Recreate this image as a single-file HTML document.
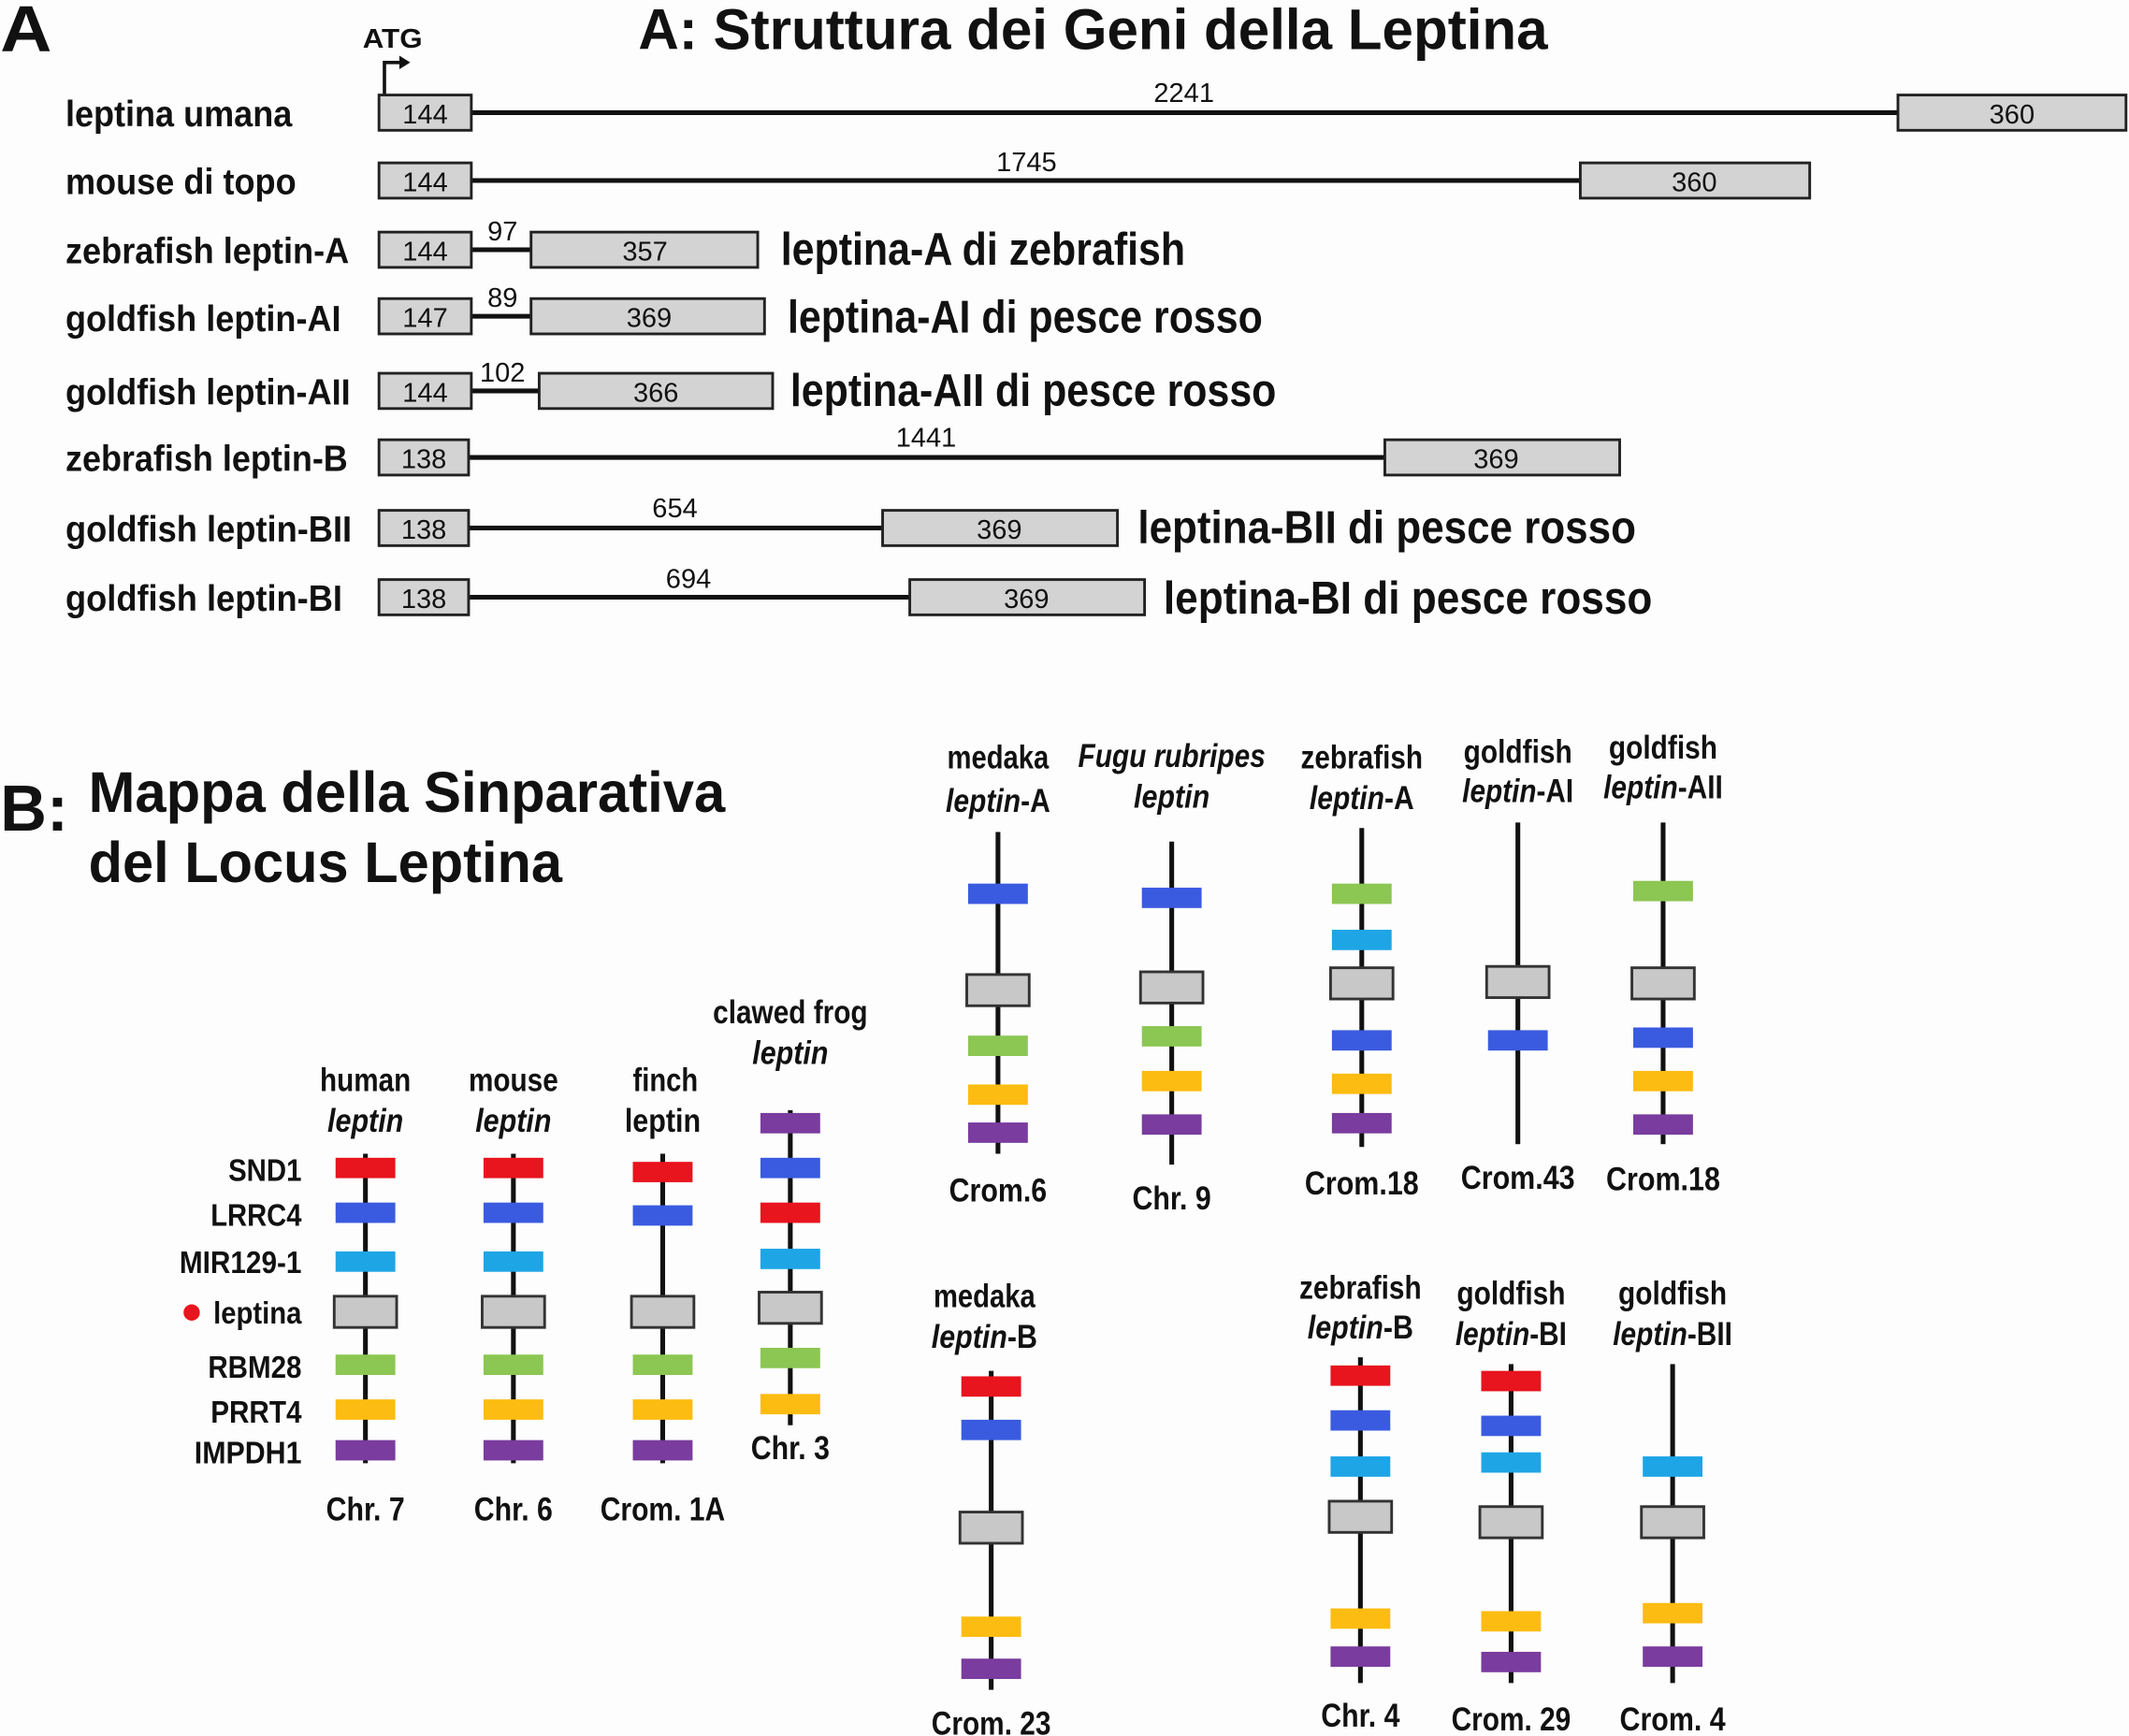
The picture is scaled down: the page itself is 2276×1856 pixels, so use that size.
<!DOCTYPE html>
<html><head><meta charset="utf-8"><style>
html,body{margin:0;padding:0;background:#fdfdfd;}
svg{display:block;}
text{font-family:"Liberation Sans",sans-serif;font-weight:bold;fill:#111;}
.n{font-weight:normal;font-size:20px;}
.lab{font-size:27px;}
.big{font-size:34px;}
.cl{font-size:24px;text-anchor:middle;}
.gn{font-size:23px;text-anchor:end;}
.bx{fill:#d3d3d3;stroke:#222;stroke-width:2;}
.ln{stroke:#111;stroke-width:3.5;}
.R{fill:#e8141e}.B{fill:#3a5be0}.C{fill:#1ea5e6}.G{fill:#8cc653}.O{fill:#fdbc12}.P{fill:#7a3c9e}
.Y{fill:#c8c8c8;stroke:#333;stroke-width:2}
</style></head><body>
<svg width="2276" height="1856" viewBox="0 0 1568 1279" xmlns="http://www.w3.org/2000/svg">
<rect width="1568" height="1279" fill="#fdfdfd"/>
<!-- Part A -->
<text x="0" y="38" style="font-size:48px" textLength="38" lengthAdjust="spacingAndGlyphs">A</text>
<text x="470" y="36" style="font-size:42px" textLength="670" lengthAdjust="spacingAndGlyphs">A: Struttura dei Geni della Leptina</text>
<text x="267" y="35" style="font-size:20px" textLength="44" lengthAdjust="spacingAndGlyphs">ATG</text>
<path d="M283 70 V46 H296" fill="none" stroke="#111" stroke-width="2.5"/>
<path d="M294 41 L302 46 L294 51 Z" fill="#111"/>

<g class="lab">
<text x="48" y="93" textLength="167" lengthAdjust="spacingAndGlyphs">leptina umana</text>
<text x="48" y="143" textLength="170" lengthAdjust="spacingAndGlyphs">mouse di topo</text>
<text x="48" y="194" textLength="209" lengthAdjust="spacingAndGlyphs">zebrafish leptin-A</text>
<text x="48" y="244" textLength="203" lengthAdjust="spacingAndGlyphs">goldfish leptin-AI</text>
<text x="48" y="298" textLength="210" lengthAdjust="spacingAndGlyphs">goldfish leptin-AII</text>
<text x="48" y="347" textLength="208" lengthAdjust="spacingAndGlyphs">zebrafish leptin-B</text>
<text x="48" y="399" textLength="211" lengthAdjust="spacingAndGlyphs">goldfish leptin-BII</text>
<text x="48" y="450" textLength="204" lengthAdjust="spacingAndGlyphs">goldfish leptin-BI</text>
</g>

<line class="ln" x1="347" y1="83" x2="1398" y2="83"/>
<rect class="bx" x="279" y="70" width="68" height="26"/><rect class="bx" x="1398" y="70" width="168" height="26"/>
<text class="n" x="313" y="91" text-anchor="middle">144</text><text class="n" x="1482" y="91" text-anchor="middle">360</text>
<text class="n" x="872" y="75" text-anchor="middle">2241</text>

<line class="ln" x1="347" y1="133" x2="1164" y2="133"/>
<rect class="bx" x="279" y="120" width="68" height="26"/><rect class="bx" x="1164" y="120" width="169" height="26"/>
<text class="n" x="313" y="141" text-anchor="middle">144</text><text class="n" x="1248" y="141" text-anchor="middle">360</text>
<text class="n" x="756" y="126" text-anchor="middle">1745</text>

<line class="ln" x1="347" y1="184" x2="391" y2="184"/>
<rect class="bx" x="279" y="171" width="68" height="26"/><rect class="bx" x="391" y="171" width="167" height="26"/>
<text class="n" x="313" y="192" text-anchor="middle">144</text><text class="n" x="475" y="192" text-anchor="middle">357</text>
<text class="n" x="370" y="177" text-anchor="middle">97</text>
<text class="big" x="575" y="195" textLength="298" lengthAdjust="spacingAndGlyphs">leptina-A di zebrafish</text>

<line class="ln" x1="347" y1="233" x2="391" y2="233"/>
<rect class="bx" x="279" y="220" width="68" height="26"/><rect class="bx" x="391" y="220" width="172" height="26"/>
<text class="n" x="313" y="241" text-anchor="middle">147</text><text class="n" x="478" y="241" text-anchor="middle">369</text>
<text class="n" x="370" y="226" text-anchor="middle">89</text>
<text class="big" x="580" y="245" textLength="350" lengthAdjust="spacingAndGlyphs">leptina-AI di pesce rosso</text>

<line class="ln" x1="347" y1="288" x2="397" y2="288"/>
<rect class="bx" x="279" y="275" width="68" height="26"/><rect class="bx" x="397" y="275" width="172" height="26"/>
<text class="n" x="313" y="296" text-anchor="middle">144</text><text class="n" x="483" y="296" text-anchor="middle">366</text>
<text class="n" x="370" y="281" text-anchor="middle">102</text>
<text class="big" x="582" y="299" textLength="358" lengthAdjust="spacingAndGlyphs">leptina-AII di pesce rosso</text>

<line class="ln" x1="345" y1="337" x2="1020" y2="337"/>
<rect class="bx" x="279" y="324" width="66" height="26"/><rect class="bx" x="1020" y="324" width="173" height="26"/>
<text class="n" x="312" y="345" text-anchor="middle">138</text><text class="n" x="1102" y="345" text-anchor="middle">369</text>
<text class="n" x="682" y="329" text-anchor="middle">1441</text>

<line class="ln" x1="345" y1="389" x2="650" y2="389"/>
<rect class="bx" x="279" y="376" width="66" height="26"/><rect class="bx" x="650" y="376" width="173" height="26"/>
<text class="n" x="312" y="397" text-anchor="middle">138</text><text class="n" x="736" y="397" text-anchor="middle">369</text>
<text class="n" x="497" y="381" text-anchor="middle">654</text>
<text class="big" x="838" y="400" textLength="367" lengthAdjust="spacingAndGlyphs">leptina-BII di pesce rosso</text>

<line class="ln" x1="345" y1="440" x2="670" y2="440"/>
<rect class="bx" x="279" y="427" width="66" height="26"/><rect class="bx" x="670" y="427" width="173" height="26"/>
<text class="n" x="312" y="448" text-anchor="middle">138</text><text class="n" x="756" y="448" text-anchor="middle">369</text>
<text class="n" x="507" y="433" text-anchor="middle">694</text>
<text class="big" x="857" y="452" textLength="360" lengthAdjust="spacingAndGlyphs">leptina-BI di pesce rosso</text>

<!-- Part B -->
<text x="0" y="612" style="font-size:48px" textLength="50" lengthAdjust="spacingAndGlyphs">B:</text>
<text x="65" y="598" style="font-size:42px" textLength="469" lengthAdjust="spacingAndGlyphs">Mappa della Sinparativa</text>
<text x="65" y="650" style="font-size:42px" textLength="349" lengthAdjust="spacingAndGlyphs">del Locus Leptina</text>

<g>
<text class="gn" x="222" y="870" textLength="54" lengthAdjust="spacingAndGlyphs">SND1</text>
<text class="gn" x="222" y="903" textLength="67" lengthAdjust="spacingAndGlyphs">LRRC4</text>
<text class="gn" x="222" y="938" textLength="90" lengthAdjust="spacingAndGlyphs">MIR129-1</text>
<circle cx="141" cy="967" r="6" fill="#e8141e"/>
<text class="gn" x="222" y="975" textLength="65" lengthAdjust="spacingAndGlyphs">leptina</text>
<text class="gn" x="222" y="1015" textLength="69" lengthAdjust="spacingAndGlyphs">RBM28</text>
<text class="gn" x="222" y="1048" textLength="67" lengthAdjust="spacingAndGlyphs">PRRT4</text>
<text class="gn" x="222" y="1078" textLength="79" lengthAdjust="spacingAndGlyphs">IMPDH1</text>
</g>

<!-- human -->
<text class="cl" x="269" y="804" textLength="67" lengthAdjust="spacingAndGlyphs">human</text><text class="cl" x="269" y="834" font-style="italic" textLength="56" lengthAdjust="spacingAndGlyphs">leptin</text>
<line class="ln" x1="269" y1="850" x2="269" y2="1078"/>
<rect class="R" x="247" y="853" width="44" height="15"/><rect class="B" x="247" y="886" width="44" height="15"/>
<rect class="C" x="247" y="922" width="44" height="15"/><rect class="Y" x="246" y="955" width="46" height="23"/>
<rect class="G" x="247" y="998" width="44" height="15"/><rect class="O" x="247" y="1031" width="44" height="15"/>
<rect class="P" x="247" y="1061" width="44" height="15"/>
<text class="cl" x="269" y="1120" textLength="58" lengthAdjust="spacingAndGlyphs">Chr. 7</text>
<!-- mouse -->
<text class="cl" x="378" y="804" textLength="66" lengthAdjust="spacingAndGlyphs">mouse</text><text class="cl" x="378" y="834" font-style="italic" textLength="56" lengthAdjust="spacingAndGlyphs">leptin</text>
<line class="ln" x1="378" y1="850" x2="378" y2="1078"/>
<rect class="R" x="356" y="853" width="44" height="15"/><rect class="B" x="356" y="886" width="44" height="15"/>
<rect class="C" x="356" y="922" width="44" height="15"/><rect class="Y" x="355" y="955" width="46" height="23"/>
<rect class="G" x="356" y="998" width="44" height="15"/><rect class="O" x="356" y="1031" width="44" height="15"/>
<rect class="P" x="356" y="1061" width="44" height="15"/>
<text class="cl" x="378" y="1120" textLength="58" lengthAdjust="spacingAndGlyphs">Chr. 6</text>
<!-- finch -->
<text class="cl" x="490" y="804" textLength="48" lengthAdjust="spacingAndGlyphs">finch</text><text class="cl" x="488" y="834" textLength="56" lengthAdjust="spacingAndGlyphs">leptin</text>
<line class="ln" x1="488" y1="850" x2="488" y2="1078"/>
<rect class="R" x="466" y="856" width="44" height="15"/><rect class="B" x="466" y="888" width="44" height="15"/>
<rect class="Y" x="465" y="955" width="46" height="23"/>
<rect class="G" x="466" y="998" width="44" height="15"/><rect class="O" x="466" y="1031" width="44" height="15"/>
<rect class="P" x="466" y="1061" width="44" height="15"/>
<text class="cl" x="488" y="1120" textLength="92" lengthAdjust="spacingAndGlyphs">Crom. 1A</text>
<!-- frog -->
<text class="cl" x="582" y="754" textLength="114" lengthAdjust="spacingAndGlyphs">clawed frog</text><text class="cl" x="582" y="784" font-style="italic" textLength="56" lengthAdjust="spacingAndGlyphs">leptin</text>
<line class="ln" x1="582" y1="818" x2="582" y2="1050"/>
<rect class="P" x="560" y="820" width="44" height="15"/><rect class="B" x="560" y="853" width="44" height="15"/>
<rect class="R" x="560" y="886" width="44" height="15"/><rect class="C" x="560" y="920" width="44" height="15"/>
<rect class="Y" x="559" y="952" width="46" height="23"/>
<rect class="G" x="560" y="993" width="44" height="15"/><rect class="O" x="560" y="1027" width="44" height="15"/>
<text class="cl" x="582" y="1075" textLength="58" lengthAdjust="spacingAndGlyphs">Chr. 3</text>

<!-- medaka A -->
<text class="cl" x="735" y="566" textLength="75" lengthAdjust="spacingAndGlyphs">medaka</text><text class="cl" x="735" y="598" textLength="77" lengthAdjust="spacingAndGlyphs"><tspan font-style="italic">leptin</tspan>-A</text>
<line class="ln" x1="735" y1="613" x2="735" y2="850"/>
<rect class="B" x="713" y="651" width="44" height="15"/><rect class="Y" x="712" y="718" width="46" height="23"/>
<rect class="G" x="713" y="763" width="44" height="15"/><rect class="O" x="713" y="799" width="44" height="15"/>
<rect class="P" x="713" y="827" width="44" height="15"/>
<text class="cl" x="735" y="885" textLength="72" lengthAdjust="spacingAndGlyphs">Crom.6</text>
<!-- fugu -->
<text class="cl" x="863" y="565" font-style="italic" textLength="138" lengthAdjust="spacingAndGlyphs">Fugu rubripes</text><text class="cl" x="863" y="595" font-style="italic" textLength="56" lengthAdjust="spacingAndGlyphs">leptin</text>
<line class="ln" x1="863" y1="620" x2="863" y2="858"/>
<rect class="B" x="841" y="654" width="44" height="15"/><rect class="Y" x="840" y="716" width="46" height="23"/>
<rect class="G" x="841" y="756" width="44" height="15"/><rect class="O" x="841" y="789" width="44" height="15"/>
<rect class="P" x="841" y="821" width="44" height="15"/>
<text class="cl" x="863" y="891" textLength="58" lengthAdjust="spacingAndGlyphs">Chr. 9</text>
<!-- zebrafish A -->
<text class="cl" x="1003" y="566" textLength="90" lengthAdjust="spacingAndGlyphs">zebrafish</text><text class="cl" x="1003" y="596" textLength="77" lengthAdjust="spacingAndGlyphs"><tspan font-style="italic">leptin</tspan>-A</text>
<line class="ln" x1="1003" y1="610" x2="1003" y2="845"/>
<rect class="G" x="981" y="651" width="44" height="15"/><rect class="C" x="981" y="685" width="44" height="15"/>
<rect class="Y" x="980" y="713" width="46" height="23"/>
<rect class="B" x="981" y="759" width="44" height="15"/><rect class="O" x="981" y="791" width="44" height="15"/>
<rect class="P" x="981" y="820" width="44" height="15"/>
<text class="cl" x="1003" y="880" textLength="84" lengthAdjust="spacingAndGlyphs">Crom.18</text>
<!-- goldfish AI -->
<text class="cl" x="1118" y="562" textLength="80" lengthAdjust="spacingAndGlyphs">goldfish</text><text class="cl" x="1118" y="591" textLength="82" lengthAdjust="spacingAndGlyphs"><tspan font-style="italic">leptin</tspan>-AI</text>
<line class="ln" x1="1118" y1="606" x2="1118" y2="843"/>
<rect class="Y" x="1095" y="712" width="46" height="23"/>
<rect class="B" x="1096" y="759" width="44" height="15"/>
<text class="cl" x="1118" y="876" textLength="84" lengthAdjust="spacingAndGlyphs">Crom.43</text>
<!-- goldfish AII -->
<text class="cl" x="1225" y="559" textLength="80" lengthAdjust="spacingAndGlyphs">goldfish</text><text class="cl" x="1225" y="588" textLength="88" lengthAdjust="spacingAndGlyphs"><tspan font-style="italic">leptin</tspan>-AII</text>
<line class="ln" x1="1225" y1="606" x2="1225" y2="843"/>
<rect class="G" x="1203" y="649" width="44" height="15"/><rect class="Y" x="1202" y="713" width="46" height="23"/>
<rect class="B" x="1203" y="757" width="44" height="15"/><rect class="O" x="1203" y="789" width="44" height="15"/>
<rect class="P" x="1203" y="821" width="44" height="15"/>
<text class="cl" x="1225" y="877" textLength="84" lengthAdjust="spacingAndGlyphs">Crom.18</text>

<!-- medaka B -->
<text class="cl" x="725" y="963" textLength="75" lengthAdjust="spacingAndGlyphs">medaka</text><text class="cl" x="725" y="993" textLength="78" lengthAdjust="spacingAndGlyphs"><tspan font-style="italic">leptin</tspan>-B</text>
<line class="ln" x1="730" y1="1010" x2="730" y2="1245"/>
<rect class="R" x="708" y="1014" width="44" height="15"/><rect class="B" x="708" y="1046" width="44" height="15"/>
<rect class="Y" x="707" y="1114" width="46" height="23"/>
<rect class="O" x="708" y="1191" width="44" height="15"/><rect class="P" x="708" y="1222" width="44" height="15"/>
<text class="cl" x="730" y="1278" textLength="88" lengthAdjust="spacingAndGlyphs">Crom. 23</text>
<!-- zebrafish B -->
<text class="cl" x="1002" y="957" textLength="90" lengthAdjust="spacingAndGlyphs">zebrafish</text><text class="cl" x="1002" y="986" textLength="78" lengthAdjust="spacingAndGlyphs"><tspan font-style="italic">leptin</tspan>-B</text>
<line class="ln" x1="1002" y1="1000" x2="1002" y2="1240"/>
<rect class="R" x="980" y="1006" width="44" height="15"/><rect class="B" x="980" y="1039" width="44" height="15"/>
<rect class="C" x="980" y="1073" width="44" height="15"/><rect class="Y" x="979" y="1106" width="46" height="23"/>
<rect class="O" x="980" y="1185" width="44" height="15"/><rect class="P" x="980" y="1213" width="44" height="15"/>
<text class="cl" x="1002" y="1272" textLength="58" lengthAdjust="spacingAndGlyphs">Chr. 4</text>
<!-- goldfish BI -->
<text class="cl" x="1113" y="961" textLength="80" lengthAdjust="spacingAndGlyphs">goldfish</text><text class="cl" x="1113" y="991" textLength="82" lengthAdjust="spacingAndGlyphs"><tspan font-style="italic">leptin</tspan>-BI</text>
<line class="ln" x1="1113" y1="1005" x2="1113" y2="1240"/>
<rect class="R" x="1091" y="1010" width="44" height="15"/><rect class="B" x="1091" y="1043" width="44" height="15"/>
<rect class="C" x="1091" y="1070" width="44" height="15"/><rect class="Y" x="1090" y="1110" width="46" height="23"/>
<rect class="O" x="1091" y="1187" width="44" height="15"/><rect class="P" x="1091" y="1217" width="44" height="15"/>
<text class="cl" x="1113" y="1275" textLength="88" lengthAdjust="spacingAndGlyphs">Crom. 29</text>
<!-- goldfish BII -->
<text class="cl" x="1232" y="961" textLength="80" lengthAdjust="spacingAndGlyphs">goldfish</text><text class="cl" x="1232" y="991" textLength="88" lengthAdjust="spacingAndGlyphs"><tspan font-style="italic">leptin</tspan>-BII</text>
<line class="ln" x1="1232" y1="1005" x2="1232" y2="1240"/>
<rect class="C" x="1210" y="1073" width="44" height="15"/><rect class="Y" x="1209" y="1110" width="46" height="23"/>
<rect class="O" x="1210" y="1181" width="44" height="15"/><rect class="P" x="1210" y="1213" width="44" height="15"/>
<text class="cl" x="1232" y="1275" textLength="78" lengthAdjust="spacingAndGlyphs">Crom. 4</text>
</svg>
</body></html>
